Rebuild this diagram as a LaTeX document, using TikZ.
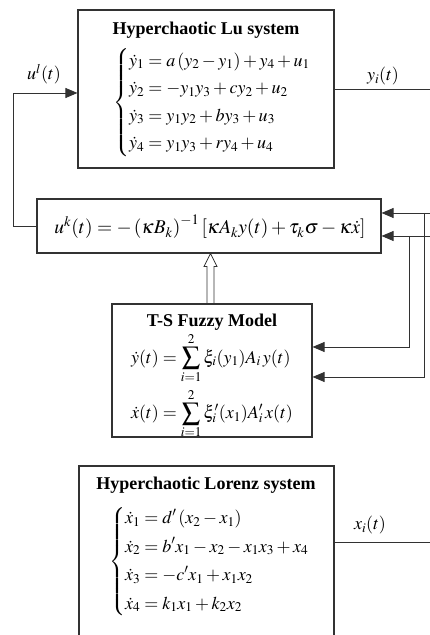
\documentclass[tikz,border=0pt]{standalone}
\usepackage{amsmath}
\usepackage{mathptmx}
\usepackage{fontspec}
\setmainfont{Liberation Serif}
\usetikzlibrary{arrows.meta, positioning}
\definecolor{linegray}{RGB}{50,50,50}

\begin{document}
\begin{tikzpicture}[x=1pt, y=1pt, >={Triangle[length=12pt,width=10pt]},
    box/.style={draw=linegray, line width=1.1pt, fill=white, inner sep=0pt},
    sig/.style={draw=linegray, line width=0.9pt},
    heading/.style={font=\fontsize{18}{22}\selectfont\bfseries, inner sep=0pt},
    eqs/.style={font=\fontsize{18}{22}\selectfont, inner sep=0pt}]
  \useasboundingbox (0,0) rectangle (430,635);

  % Blocks
  \node[box, minimum width=256pt, minimum height=158pt] (lu) at (206,546) {};
  \node[box, minimum width=344pt, minimum height=54pt] (ctrl) at (209,409) {};
  \node[box, minimum width=200pt, minimum height=133pt] (fuzzy) at (212,264.5) {};
  \node[box, minimum width=255pt, minimum height=189pt] (lorenz) at (206.5,74.5) {};

  % Lu system
  \node[heading] (lutitle) at (206,605) {Hyperchaotic Lu system};
  \node[eqs, anchor=west] (lueq) at (113,532)
    {$\setlength{\jot}{5.5pt}\left\{\begin{aligned}
      \dot{y}_1 &= a\left(y_2-y_1\right)+y_4+u_1\\
      \dot{y}_2 &= -y_1y_3+cy_2+u_2\\
      \dot{y}_3 &= y_1y_2+by_3+u_3\\
      \dot{y}_4 &= y_1y_3+ry_4+u_4
    \end{aligned}\right.$};

  % Controller
  \node[eqs, font=\fontsize{19.5}{23}\selectfont] (law) at (210,408)
    {$u^k(t)=-\left(\kappa B_k\right)^{-1}\left[\kappa A_k y(t)+\tau_k\sigma-\kappa\dot{x}\right]$};

  % T-S fuzzy model
  \node[heading] (fztitle) at (212,313) {T-S Fuzzy Model};
  \node[eqs] (fzeq) at (212,249)
    {$\begin{aligned}
      \dot{y}(t) &= \sum_{i=1}^{2}\xi_i(y_1)A_i\,y(t)\\[1pt]
      \dot{x}(t) &= \sum_{i=1}^{2}\xi'_i(x_1)A'_i\,x(t)
    \end{aligned}$};

  % Lorenz system
  \node[heading] (lztitle) at (206,150) {Hyperchaotic Lorenz system};
  \node[eqs, anchor=west] (lzeq) at (109,73)
    {$\setlength{\jot}{6.5pt}\left\{\begin{aligned}
      \dot{x}_1 &= d'\left(x_2-x_1\right)\\
      \dot{x}_2 &= b'x_1-x_2-x_1x_3+x_4\\
      \dot{x}_3 &= -c'x_1+x_1x_2\\
      \dot{x}_4 &= k_1x_1+k_2x_2
    \end{aligned}\right.$};

  % Signal labels
  \node[eqs] (ul) at (44,561) {$u^l(t)$};
  \node[eqs] (yi) at (383,559) {$y_i(t)$};
  \node[eqs] (xi) at (370,110) {$x_i(t)$};

  % Free ends beyond the right edge
  \coordinate (yend) at (440,546);
  \coordinate (xout) at (334,93);
  \coordinate (xend) at (440,93);
  \coordinate (fbA) at (440,422);
  \coordinate (fbB) at (440,399);
  \coordinate (brA) at (424,422);
  \coordinate (brB) at (409,399);

  % Outputs
  \draw[sig] (lu.east) -- (yend);
  \draw[sig] (xout) -- (xend);

  % Control input loop
  \draw[sig, ->] (ctrl.west) -- ++(-23,0) |- ([yshift=-4pt]lu.west);

  % Feedback to controller and fuzzy model
  \draw[sig, ->] (fbA) -- (fbA -| ctrl.east);
  \draw[sig, ->] (fbB) -- (fbB -| ctrl.east);
  \draw[sig, ->] (brA) |- ([yshift=-6.5pt]fuzzy.east);
  \draw[sig, ->] (brB) |- ([yshift=23.5pt]fuzzy.east);

  % Hollow arrow from fuzzy model to controller
  \coordinate (tip) at ([xshift=1.5pt]ctrl.south);
  \draw[sig, line width=0.8pt] (tip) -- ++(-6.5,-13) -- ++(3,0) coordinate (sl) -- (sl |- fuzzy.north)
    (tip) -- ++(6.5,-13) -- ++(-3,0) coordinate (sr) -- (sr |- fuzzy.north);
\end{tikzpicture}
\end{document}
